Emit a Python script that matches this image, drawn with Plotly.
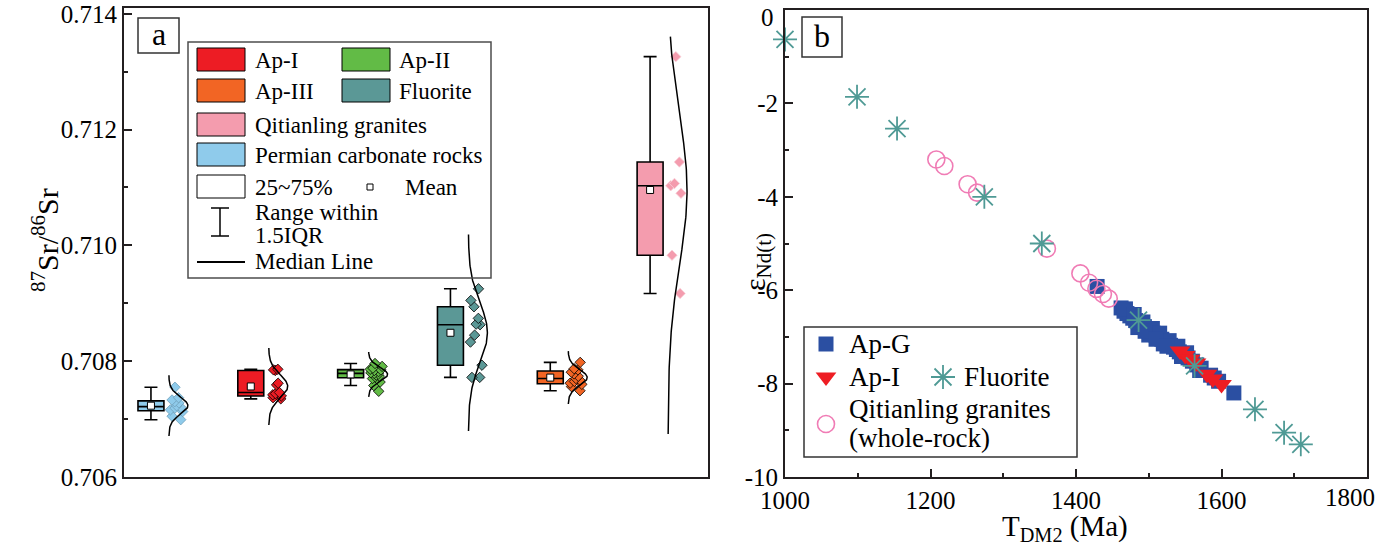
import numpy as np
import plotly.graph_objects as go

W, H = 1385, 549
FONT = "Liberation Serif"
AXC = "#231F20"

# ---------------- panel a data (87Sr/86Sr) ----------------
groups_a = ["Permian carbonate rocks", "Ap-I", "Ap-II", "Fluorite", "Ap-III", "Qitianling granites"]
sr_permian = [0.70755, 0.70737, 0.70733, 0.70730, 0.70728, 0.70723, 0.70720, 0.70719,
              0.70716, 0.70713, 0.70705, 0.70699]
sr_ap1 = [0.70786, 0.70785, 0.70784, 0.70762, 0.70759, 0.70746, 0.70744, 0.70742,
          0.70740, 0.70737, 0.70735]
sr_ap2 = [0.70796, 0.70791, 0.70788, 0.70786, 0.70785, 0.70784, 0.70782, 0.70780,
          0.70779, 0.70778, 0.70776, 0.70774, 0.70773, 0.70770, 0.70764, 0.70758, 0.70748]
sr_fluorite = [0.70925, 0.70905, 0.70894, 0.70874, 0.70864, 0.70863, 0.70845, 0.70833,
               0.70793, 0.70772, 0.70772]
sr_ap3 = [0.70798, 0.70787, 0.70785, 0.70781, 0.70778, 0.70774, 0.70770, 0.70767,
          0.70765, 0.70762, 0.70760, 0.70756, 0.70749]
sr_qitianling = [0.71326, 0.71144, 0.71107, 0.71103, 0.71090, 0.70983, 0.70917]
sr_ticks = [0.706, 0.708, 0.710, 0.712, 0.714]

fill_a = ["#8FCBEB", "#ED1C24", "#62BB46", "#5B9896", "#F26524", "#F49CAE"]
ptline_a = ["#6E9FBA", "black", "black", "black", "black", "#F8D3DB"]
# extent of each fitted normal curve, in standard deviations below / above the mean
curve_k = [(3.5, 3.5), (3.3, 3.3), (3.2, 3.2), (3.25, 3.25), (3.3, 3.3), (3.26, 2.05)]

# ---------------- panel b data (eNd(t) vs TDM2) ----------------
apg_t = [1429, 1462, 1466, 1470, 1474, 1478, 1482, 1486, 1490, 1494, 1498, 1502, 1506,
         1510, 1514, 1518, 1522, 1526, 1530, 1534, 1538, 1542, 1548, 1554, 1560, 1566,
         1572, 1590, 1596, 1617, 1500, 1520, 1485,
         1468, 1480, 1492, 1505, 1515, 1528, 1540, 1552, 1495, 1510, 1525, 1545, 1570, 1585]
apg_e = [-5.92, -6.38, -6.45, -6.50, -6.55, -6.60, -6.65, -6.70, -6.74, -6.78, -6.83,
         -6.87, -6.92, -6.96, -7.00, -7.05, -7.10, -7.14, -7.18, -7.22, -7.27, -7.32,
         -7.38, -7.45, -7.52, -7.60, -7.67, -7.88, -7.95, -8.20, -6.96, -7.15, -6.80,
         -6.40, -6.52, -6.68, -6.82, -6.92, -7.08, -7.20, -7.34, -6.88, -7.05, -7.20,
         -7.42, -7.72, -7.82]
api_t = [1543, 1550, 1557, 1565, 1580, 1588, 1600]
api_e = [-7.30, -7.40, -7.48, -7.56, -7.80, -7.90, -8.02]
fl_t = [1000, 1099, 1154, 1274, 1353, 1486, 1563, 1646, 1686, 1709]
fl_e = [-0.63, -1.86, -2.54, -4.00, -5.00, -6.64, -7.62, -8.55, -9.05, -9.30]
qt_t = [1208, 1219, 1251, 1264, 1360, 1406, 1418, 1428, 1437, 1445]
qt_e = [-3.20, -3.34, -3.73, -3.91, -5.11, -5.64, -5.84, -5.97, -6.08, -6.18]
t_ticks = [1000, 1200, 1400, 1600, 1800]
e_ticks = [-10, -8, -6, -4, -2, 0]

C_APG = "#2B4FA2"
C_API = "#EE1D23"
C_FL = "#4F9A95"
C_QT = "#F07CB5"

fig = go.Figure()

# ---------------- panel a traces ----------------
series_a = [sr_permian, sr_ap1, sr_ap2, sr_fluorite, sr_ap3, sr_qitianling]
for i, vals in enumerate(series_a):
    pos = i + 1
    v = np.array(vals)
    fig.add_trace(go.Box(
        x=[pos] * len(v), y=v, width=0.26, fillcolor=fill_a[i],
        line=dict(color="black", width=1.6), whiskerwidth=0.5,
        boxpoints="all", pointpos=2.0, jitter=0.6,
        quartilemethod="exclusive",
        marker=dict(symbol="diamond", size=8, color=fill_a[i],
                    line=dict(color=ptline_a[i], width=0.8)),
        xaxis="x", yaxis="y", showlegend=False, name=groups_a[i]))
    m = v.mean()
    s = v.std(ddof=1)
    klo, khi = curve_k[i]
    yy = np.linspace(m - klo * s, m + khi * s, 150)
    xx = pos + 0.18 + 0.19 * np.exp(-0.5 * ((yy - m) / s) ** 2)
    fig.add_trace(go.Scatter(x=xx, y=yy, mode="lines", line=dict(color="black", width=1.5),
                             xaxis="x", yaxis="y", showlegend=False, hoverinfo="skip"))
    fig.add_trace(go.Scatter(x=[pos], y=[m], mode="markers",
                             marker=dict(symbol="square", size=7, color="white",
                                         line=dict(color="black", width=1)),
                             xaxis="x", yaxis="y", showlegend=False))

# ---------------- panel b traces ----------------
fig.add_trace(go.Scatter(x=apg_t, y=apg_e, mode="markers", cliponaxis=False,
                         marker=dict(symbol="square", size=15, color=C_APG),
                         xaxis="x2", yaxis="y2", showlegend=False, name="Ap-G"))
fig.add_trace(go.Scatter(x=api_t, y=api_e, mode="markers", cliponaxis=False,
                         marker=dict(symbol="triangle-down", size=18, color=C_API),
                         xaxis="x2", yaxis="y2", showlegend=False, name="Ap-I"))
fig.add_trace(go.Scatter(x=qt_t, y=qt_e, mode="markers", cliponaxis=False,
                         marker=dict(symbol="circle-open", size=17, color=C_QT,
                                     line=dict(width=1.6)),
                         xaxis="x2", yaxis="y2", showlegend=False, name="Qitianling granites"))
fig.add_trace(go.Scatter(x=fl_t, y=fl_e, mode="markers", cliponaxis=False,
                         marker=dict(symbol="asterisk-open", size=20, color=C_FL,
                                     line=dict(width=1.8, color=C_FL)),
                         xaxis="x2", yaxis="y2", showlegend=False, name="Fluorite"))

# ---------------- legend helpers (pixel overlay axes) ----------------
shapes = []
annotations = []


def rect(x0, y0, x1, y1, fill="rgba(0,0,0,0)", lc="black", lw=1):
    shapes.append(dict(type="rect", xref="x3", yref="y3", x0=x0, y0=y0, x1=x1, y1=y1,
                       fillcolor=fill, line=dict(color=lc, width=lw), layer="above"))


def line(x0, y0, x1, y1, lc="black", lw=1.5):
    shapes.append(dict(type="line", xref="x3", yref="y3", x0=x0, y0=y0, x1=x1, y1=y1,
                       line=dict(color=lc, width=lw), layer="above"))


def text(x, y, s, size=23, anchor="left"):
    annotations.append(dict(xref="x3", yref="y3", x=x, y=y, text=s, showarrow=False,
                            xanchor=anchor, yanchor="middle",
                            font=dict(family=FONT, size=size, color="black")))


# panel a legend
rect(188, 42, 491, 278, lc="#4D4D4D", lw=1.5)
sw = [(197, 48, fill_a[1], "Ap-I", 253), (342, 48, fill_a[2], "Ap-II", 397),
      (197, 79, fill_a[4], "Ap-III", 253), (342, 79, fill_a[3], "Fluorite", 397),
      (197, 113, fill_a[5], "Qitianling granites", 253),
      (197, 143, fill_a[0], "Permian carbonate rocks", 253),
      (197, 175, "white", "25~75%", 253)]
for x0, y0, c, lab, tx in sw:
    rect(x0, y0, x0 + 48, y0 + 23, fill=c, lc="black", lw=1)
    text(tx, y0 + 12, lab)
rect(367, 184, 373, 190, fill="white", lc="black", lw=1)
text(403, 187, "Mean")
line(220, 208, 220, 236)
line(211, 208, 229, 208)
line(211, 236, 229, 236)
text(253, 212, "Range within")
text(253, 235, "1.5IQR")
line(197, 262, 245, 262, lw=2)
text(253, 261, "Median Line")

# panel a / b labels
rect(138, 18, 179, 53, lc="#333333", lw=1.5)
text(158.5, 34, "a", size=32, anchor="center")
rect(802, 17, 842, 57, lc="#333333", lw=1.5)
text(822, 36, "b", size=32, anchor="center")

# panel b legend
rect(804, 327, 1077, 457, lc="#333333", lw=1.5)
LB = 27
fig.add_trace(go.Scatter(x=[826], y=[344], mode="markers",
                         marker=dict(symbol="square", size=15, color=C_APG),
                         xaxis="x3", yaxis="y3", showlegend=False, hoverinfo="skip"))
text(847, 344, "Ap-G", size=LB)
fig.add_trace(go.Scatter(x=[826], y=[377], mode="markers",
                         marker=dict(symbol="triangle-down", size=18, color=C_API),
                         xaxis="x3", yaxis="y3", showlegend=False, hoverinfo="skip"))
text(847, 377, "Ap-I", size=LB)
fig.add_trace(go.Scatter(x=[943], y=[377], mode="markers",
                         marker=dict(symbol="asterisk-open", size=20, color=C_FL,
                                     line=dict(width=1.8, color=C_FL)),
                         xaxis="x3", yaxis="y3", showlegend=False, hoverinfo="skip"))
text(962, 377, "Fluorite", size=LB)
fig.add_trace(go.Scatter(x=[826], y=[424], mode="markers",
                         marker=dict(symbol="circle-open", size=17, color=C_QT,
                                     line=dict(width=1.6)),
                         xaxis="x3", yaxis="y3", showlegend=False, hoverinfo="skip"))
text(847, 409, "Qitianling granites", size=LB)
text(847, 438, "(whole-rock)", size=LB)

# axis titles
annotations.append(dict(xref="x3", yref="y3", x=45, y=240, textangle=-90, showarrow=False,
                        text="<sup>87</sup>Sr/<sup>86</sup>Sr",
                        font=dict(family=FONT, size=30, color="black")))
annotations.append(dict(xref="x3", yref="y3", x=757, y=262, textangle=-90, showarrow=False,
                        text="ε<sub>Nd(t)</sub>",
                        font=dict(family=FONT, size=30, color="black")))
annotations.append(dict(xref="x3", yref="y3", x=1065, y=528, showarrow=False,
                        text="T<sub>DM2</sub> (Ma)",
                        font=dict(family=FONT, size=29, color="black")))

tickfont = dict(family=FONT, size=25, color="black")

# edge tick labels nudged inside the picture (last x label, top y label)
t_text = [f"{t:d}" for t in t_ticks]
annotations.append(dict(xref="x2", yref="y3", x=t_ticks[-1], y=497, text=t_text[-1],
                        showarrow=False, xanchor="right", xshift=10, yanchor="middle",
                        font=tickfont))
t_text[-1] = ""
e_text = [f"{t:d}" for t in e_ticks]
annotations.append(dict(xref="x3", yref="y3", x=776, y=17, text=e_text[-1],
                        showarrow=False, xanchor="right", yanchor="middle", font=tickfont))
e_text[-1] = ""

axis_common = dict(showline=True, linecolor=AXC, linewidth=2, mirror=True, showgrid=False,
                   zeroline=False, ticks="inside", tickcolor=AXC, tickwidth=1.5, ticklen=8,
                   tickfont=tickfont, automargin=False, ticklabeloverflow="allow")

fig.update_layout(
    width=W, height=H, margin=dict(l=0, r=0, t=0, b=0, pad=0, autoexpand=False),
    paper_bgcolor="white", plot_bgcolor="rgba(0,0,0,0)",
    boxmode="overlay", showlegend=False,
    font=dict(family=FONT, color="black"),
    xaxis=dict(domain=[124 / W, 708 / W], range=[0.73, 6.58], anchor="y",
               showline=True, linecolor=AXC, linewidth=2, mirror=True, showgrid=False,
               zeroline=False, showticklabels=False, ticks="", automargin=False),
    yaxis=dict(domain=[1 - 477 / H, 1 - 8 / H], range=[0.706, 0.7141], anchor="x",
               tickmode="array", tickvals=sr_ticks, ticktext=[f"{t:.3f}" for t in sr_ticks],
               minor=dict(ticks="inside", ticklen=4, tickmode="linear", tick0=0.706,
                          dtick=0.001, tickcolor=AXC, tickwidth=1.5),
               **axis_common),
    xaxis2=dict(domain=[785 / W, 1367 / W], range=[1000, 1800], anchor="y2",
                tickmode="array", tickvals=t_ticks, ticktext=t_text,
                minor=dict(ticks="inside", ticklen=4, tickmode="linear", tick0=1000,
                           dtick=100, tickcolor=AXC, tickwidth=1.5),
                **axis_common),
    yaxis2=dict(domain=[1 - 477 / H, 1 - 10 / H], range=[-10, 0], anchor="x2",
                tickmode="array", tickvals=e_ticks, ticktext=e_text,
                minor=dict(ticks="inside", ticklen=4, tickmode="linear", tick0=0,
                           dtick=1, tickcolor=AXC, tickwidth=1.5),
                **axis_common),
    xaxis3=dict(domain=[0, 1], range=[0, W], anchor="y3", visible=False, fixedrange=True,
                automargin=False),
    yaxis3=dict(domain=[0, 1], range=[H, 0], anchor="x3", visible=False, fixedrange=True,
                automargin=False),
    shapes=shapes, annotations=annotations,
)

fig.write_html("out.html", config={"displayModeBar": False},
               post_script="document.body.style.margin='0px';"
                           "document.body.style.overflow='hidden';")
